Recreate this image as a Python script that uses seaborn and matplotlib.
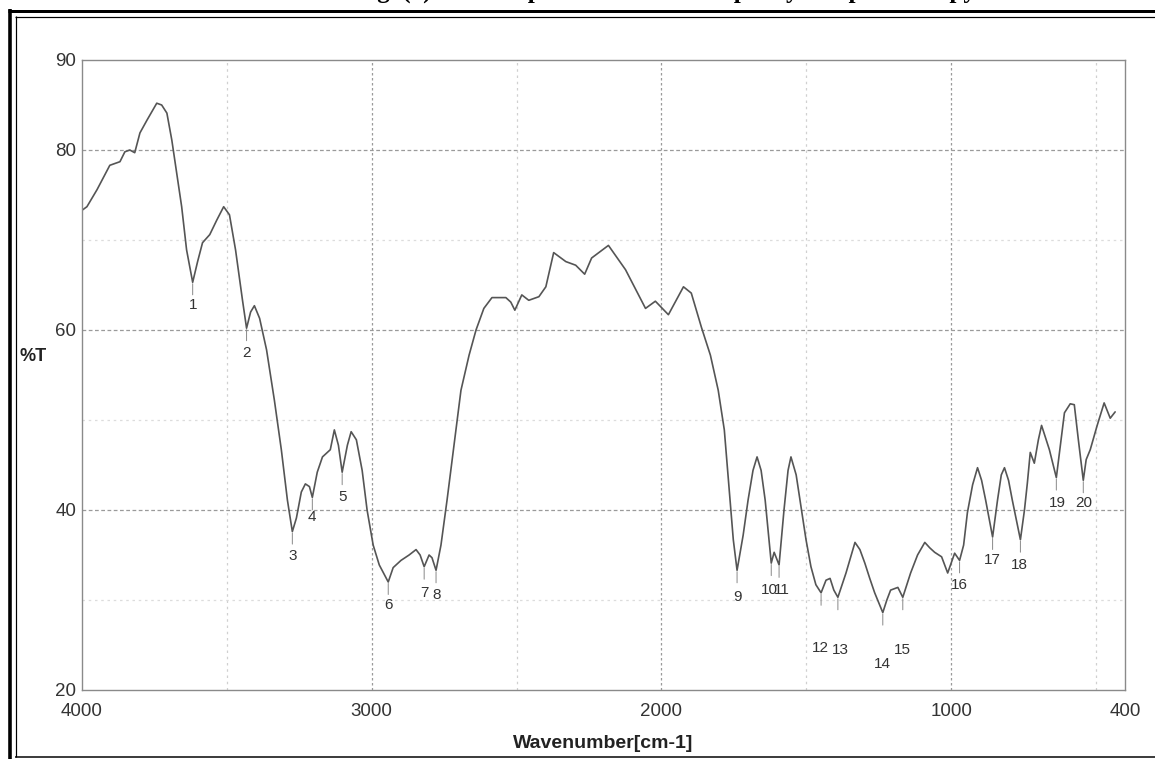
import matplotlib
matplotlib.use("Agg")
import matplotlib.pyplot as plt
from matplotlib.lines import Line2D
from matplotlib.ticker import FixedLocator
import seaborn as sns
import pandas as pd

# ---- data ----
wavenumber = [4000, 3983, 3948, 3904, 3869, 3852, 3835, 3818, 3800, 3776, 3742, 3725, 3707,
              3690, 3673, 3656, 3639, 3618, 3601, 3584, 3559, 3535, 3511, 3491, 3470, 3446,
              3432, 3418, 3405, 3387, 3363, 3336, 3312, 3291, 3274, 3260, 3243, 3229, 3215,
              3205, 3188, 3170, 3153, 3143, 3129, 3115, 3102, 3084, 3071, 3053, 3033, 3016,
              2995, 2974, 2943, 2926, 2899, 2871, 2847, 2833, 2819, 2802, 2792, 2778, 2761,
              2740, 2716, 2692, 2664, 2640, 2613, 2585, 2537, 2520, 2506, 2482, 2458, 2423,
              2399, 2372, 2330, 2296, 2265, 2241, 2183, 2124, 2055, 2021, 1976, 1924, 1897,
              1862, 1831, 1804, 1783, 1766, 1752, 1739, 1718, 1701, 1684, 1670, 1656, 1642,
              1621, 1611, 1594, 1577, 1563, 1553, 1535, 1518, 1501, 1484, 1467, 1449, 1432,
              1418, 1405, 1391, 1363, 1332, 1315, 1298, 1281, 1264, 1236, 1222, 1209, 1184,
              1167, 1140, 1116, 1091, 1074, 1057, 1033, 1012, 988, 971, 957, 944, 926, 909,
              895, 881, 857, 840, 827, 816, 802, 789, 761, 747, 737, 727, 713, 699, 688, 675,
              661, 637, 623, 609, 589, 575, 561, 544, 534, 520, 496, 472, 451, 434]
transmittance = [73.3, 73.7, 75.6, 78.3, 78.7, 79.8, 80.0, 79.7, 81.9, 83.3, 85.2, 85.0, 84.1,
                 81.1, 77.4, 73.7, 68.9, 65.3, 67.6, 69.7, 70.6, 72.2, 73.7, 72.8, 68.9, 63.3,
                 60.2, 62.0, 62.7, 61.3, 57.8, 52.2, 46.7, 41.1, 37.6, 39.1, 42.0, 42.9, 42.6,
                 41.4, 44.2, 45.9, 46.4, 46.7, 48.9, 47.2, 44.2, 47.2, 48.7, 47.8, 44.4, 40.0,
                 36.1, 33.9, 32.0, 33.6, 34.4, 35.0, 35.6, 35.0, 33.7, 35.0, 34.7, 33.3, 36.1,
                 41.1, 47.2, 53.3, 57.2, 60.0, 62.4, 63.6, 63.6, 63.1, 62.2, 63.9, 63.3, 63.7,
                 64.8, 68.6, 67.6, 67.2, 66.2, 68.0, 69.4, 66.7, 62.4, 63.2, 61.7, 64.8, 64.1,
                 60.3, 57.2, 53.3, 48.9, 42.2, 36.7, 33.3, 37.2, 41.1, 44.4, 45.9, 44.4, 41.1,
                 34.1, 35.3, 33.9, 40.0, 44.4, 45.9, 43.9, 40.3, 36.7, 33.7, 31.7, 30.8, 32.2,
                 32.4, 31.1, 30.3, 33.0, 36.4, 35.6, 34.1, 32.4, 30.8, 28.6, 30.0, 31.1, 31.4,
                 30.3, 33.0, 35.0, 36.4, 35.8, 35.3, 34.8, 33.0, 35.2, 34.4, 36.1, 39.7, 42.8,
                 44.7, 43.3, 41.1, 37.0, 41.1, 43.9, 44.7, 43.3, 41.1, 36.7, 40.0, 43.0, 46.4,
                 45.2, 47.8, 49.4, 48.1, 46.7, 43.6, 47.2, 50.8, 51.8, 51.7, 47.8, 43.3, 45.6,
                 46.7, 49.4, 51.9, 50.2, 50.9]

# peak labels: number, minimum position, label position
peak_ids = ["1", "2", "3", "4", "5", "6", "7", "8", "9", "10",
            "11", "12", "13", "14", "15", "16", "17", "18", "19", "20"]
peak_wn = [3618, 3432, 3274, 3205, 3102, 2943, 2819, 2778, 1739, 1621,
           1594, 1449, 1391, 1236, 1167, 971, 857, 761, 637, 544]
peak_T = [65.3, 60.2, 37.6, 41.4, 44.2, 32.0, 33.7, 33.3, 33.3, 34.1,
          33.9, 30.8, 30.3, 28.6, 30.3, 34.4, 37.0, 36.7, 43.6, 43.3]
label_wn = [3618, 3432, 3274, 3205, 3102, 2943, 2819, 2775, 1739, 1628,
            1584, 1453, 1384, 1239, 1167, 971, 857, 764, 634, 541]
label_T = [62.8, 57.4, 34.9, 39.2, 41.4, 29.4, 30.8, 30.6, 30.3, 31.1,
           31.1, 24.7, 24.4, 22.9, 24.4, 31.7, 34.4, 33.9, 40.8, 40.8]

x_ticks = [4000, 3000, 2000, 1000, 400]
y_ticks = [20, 40, 60, 80, 90]

title_text = "Fig. (1): FT-IR spectrum of the sample by IR spectroscopy"
x_title = "Wavenumber[cm-1]"
y_title = "%T"

df = pd.DataFrame({"wavenumber": wavenumber, "T": transmittance})

sns.set_theme(style="white")
plt.rcParams["font.family"] = ["Liberation Sans", "DejaVu Sans"]

W, H = 1155, 759
fig = plt.figure(figsize=(W / 100, H / 100), dpi=100)
fig.patch.set_facecolor("white")

ax = fig.add_axes([82 / W, 1 - 690 / H, (1125 - 82) / W, (690 - 60) / H])
ax.set_facecolor("white")

sns.lineplot(data=df, x="wavenumber", y="T", sort=False, color="#555555",
             linewidth=1.2, ax=ax)

ax.set_xlim(4000, 400)
ax.set_ylim(20, 90)

# ticks
ax.xaxis.set_major_locator(FixedLocator(x_ticks))
ax.xaxis.set_minor_locator(FixedLocator([3500, 2500, 1500, 500]))
ax.yaxis.set_major_locator(FixedLocator(y_ticks))
ax.yaxis.set_minor_locator(FixedLocator([30, 50, 70]))
ax.set_xticklabels([str(v) for v in x_ticks])
ax.set_yticklabels([str(v) for v in y_ticks])
ax.tick_params(axis="both", which="both", direction="in", colors="#666666",
               labelcolor="#333333", labelsize=13.5)
ax.tick_params(axis="both", which="major", length=6, width=0.8)
ax.tick_params(axis="both", which="minor", length=5, width=0.8)
ax.tick_params(axis="x", pad=9)
ax.tick_params(axis="y", pad=4)

# grid
for v in [3000, 2000, 1000]:
    ax.axvline(v, color="#9a9a9a", lw=0.9, ls=(0, (2, 2)), zorder=0)
for v in [3500, 2500, 1500, 500]:
    ax.axvline(v, color="#d0d0d0", lw=0.9, ls=(0, (2, 3)), zorder=0)
for v in [80, 60, 40]:
    ax.axhline(v, color="#9a9a9a", lw=0.9, ls=(0, (3, 2)), zorder=0)
for v in [70, 50, 30]:
    ax.axhline(v, color="#dcdcdc", lw=0.9, ls=(0, (2, 3)), zorder=0)

for s in ax.spines.values():
    s.set_color("#8a8a8a")
    s.set_linewidth(1.0)
    s.set_visible(True)

ax.set_xlabel("")
ax.set_ylabel("")

# peak labels with short marker ticks below each minimum
for pid, pw, pt, lw_, lt in zip(peak_ids, peak_wn, peak_T, label_wn, label_T):
    ax.annotate("", xy=(pw, pt), xytext=(0, -9), textcoords="offset points",
                arrowprops=dict(arrowstyle="-", color="#888888", lw=0.7,
                                shrinkA=0, shrinkB=1))
    ax.text(lw_, lt, pid, ha="center", va="center", fontsize=11, color="#333333")

# axis titles
fig.text(603 / W, 1 - 743 / H, x_title, ha="center", va="center",
         fontsize=14, fontweight="bold", color="#222222")
fig.text(33 / W, 1 - 357 / H, y_title, ha="center", va="center",
         fontsize=13, fontweight="bold", color="#222222")

# partly cut title at the very top (only its lowest part shows)
fig.text(665 / W, 1 + 2.5 / H, title_text, ha="center", va="baseline",
         fontsize=18, fontweight="bold", color="black",
         family=["Liberation Serif", "DejaVu Serif"])

# double frame around the figure
def fline(x0, y0, x1, y1, lw):
    fig.add_artist(Line2D([x0 / W, x1 / W], [1 - y0 / H, 1 - y1 / H],
                          transform=fig.transFigure, color="black", lw=lw,
                          solid_capstyle="butt"))

fline(9.5, 9, 9.5, H, 3.6 * 0.72)
fline(8, 10.5, W, 10.5, 3.0 * 0.72)
fline(15.5, 16, 15.5, 757, 1.2 * 0.72)
fline(15, 16.5, W, 16.5, 1.2 * 0.72)
fline(15, 757, W, 757, 1.5 * 0.72)

fig.savefig("out.png", dpi=100)
